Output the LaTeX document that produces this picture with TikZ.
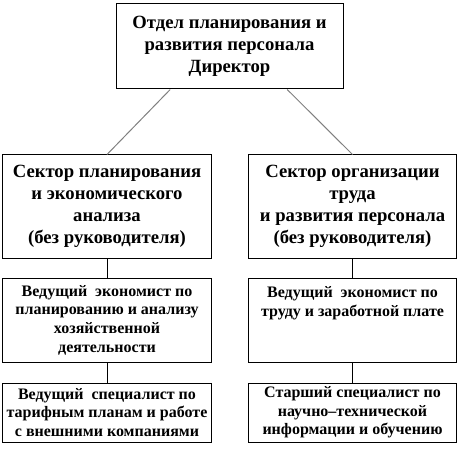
\documentclass[tikz,border=0pt]{standalone}
\usepackage{fontspec}
\setmainfont{Liberation Serif}
\newfontfamily\boxfont{Liberation Serif}[BoldFont={* Bold}]
\usetikzlibrary{calc}

\begin{document}
\begin{tikzpicture}[x=0.75pt, y=-0.75pt,
  unitbox/.style={draw, line width=0.75pt, align=center, inner sep=0pt,
    minimum width=156.5pt, font=\boxfont\bfseries\fontsize{14}{16.5}\selectfont},
  staffbox/.style={draw, line width=0.75pt, align=center, inner sep=0pt,
    minimum width=156.5pt, font=\boxfont\bfseries\fontsize{12}{14}\selectfont},
  link/.style={line width=0.75pt}]
  \useasboundingbox (0,0) rectangle (460,452);
  \node[unitbox, minimum width=170.25pt, minimum height=63.75pt] (head) at (229.5,46.5)
    {Отдел планирования и\\развития персонала\\Директор};
  \node[unitbox, minimum height=77.25pt] (lsec) at (107,206.5)
    {Сектор планирования\\и экономического\\анализа\\(без руководителя)};
  \node[unitbox, minimum height=77.25pt] (rsec) at (352.5,206.5)
    {Сектор организации\\труда\\и развития персонала\\(без руководителя)};
  \node[staffbox, minimum height=63pt] (lmid) at (107,320)
    {Ведущий\ \ экономист по\\планированию и анализу\\хозяйственной\\деятельности};
  \node[staffbox, minimum height=63pt] (rmid) at (352.5,320)
    {Ведущий\ \ экономист по\\труду и заработной плате\\~\\~};
  \node[staffbox, minimum height=44.25pt] (lbot) at (107,412.5)
    {Ведущий\ \ специалист по\\тарифным планам и работе\\с внешними компаниями};
  \node[staffbox, minimum height=44.25pt] (rbot) at (352.5,412.5)
    {Старший специалист по\\научно–технической\\информации и обучению};
  \draw[link, gray] ($(head.south west)!0.24!(head.south east)$) -- (lsec.north);
  \draw[link, gray] ($(head.south west)!0.753!(head.south east)$) -- (rsec.north);
  \draw[link] (lsec.south) -- (lmid.north);
  \draw[link] (rsec.south) -- (rmid.north);
  \draw[link] (lmid.south) -- (lbot.north);
  \draw[link] (rmid.south) -- (rbot.north);
\end{tikzpicture}
\end{document}
